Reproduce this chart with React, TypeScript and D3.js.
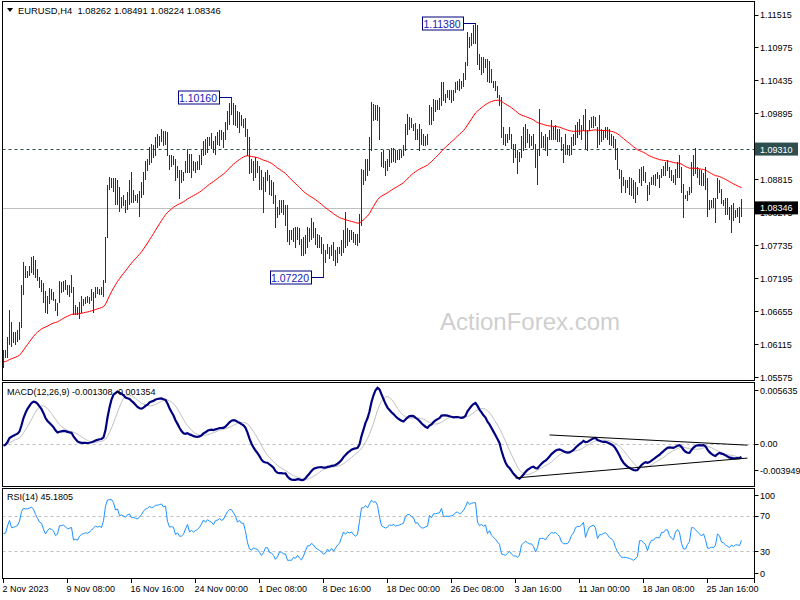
import React from 'react';
import * as d3 from 'd3';

// ---- OHLC data (H4 EURUSD, bar 0 = 2 Nov 2023 00:00) ----
const highs = [
1.0601,1.0601,1.0623,1.0667,1.0648,1.0631,1.0631,1.0634,1.0648,1.0708,
1.0746,1.0740,1.0732,1.0740,1.0754,1.0755,1.0749,1.0735,1.0721,1.0716,
1.0711,1.0699,1.0691,1.0704,1.0701,1.0697,1.0686,1.0678,1.0715,1.0713,
1.0715,1.0716,1.0709,1.0708,1.0724,1.0705,1.0675,1.0673,1.0680,1.0691,
1.0686,1.0689,1.0690,1.0689,1.0701,1.0697,1.0705,1.0705,1.0702,1.0705,
1.0717,1.0787,1.0872,1.0886,1.0884,1.0883,1.0884,1.0880,1.0869,1.0852,
1.0855,1.0847,1.0860,1.0881,1.0894,1.0864,1.0856,1.0858,1.0863,1.0877,
1.0893,1.0912,1.0915,1.0934,1.0940,1.0937,1.0951,1.0956,1.0953,1.0964,
1.0961,1.0960,1.0959,1.0922,1.0921,1.0920,1.0915,1.0904,1.0897,1.0896,
1.0893,1.0912,1.0931,1.0923,1.0923,1.0912,1.0910,1.0912,1.0921,1.0929,
1.0945,1.0948,1.0950,1.0951,1.0957,1.0945,1.0952,1.0959,1.0962,1.0963,
1.0959,1.0975,1.0994,1.1006,1.1016,1.1006,1.1004,1.0994,1.0992,1.0986,
1.0981,1.0982,1.0964,1.0950,1.0915,1.0912,1.0918,1.0912,1.0904,1.0896,
1.0885,1.0893,1.0896,1.0888,1.0880,1.0877,1.0855,1.0836,1.0847,1.0847,
1.0848,1.0839,1.0839,1.0798,1.0798,1.0802,1.0803,1.0803,1.0801,1.0784,
1.0787,1.0790,1.0803,1.0801,1.0818,1.0811,1.0801,1.0792,1.0790,1.0787,
1.0776,1.0765,1.0776,1.0771,1.0773,1.0779,1.0765,1.0771,1.0771,1.0782,
1.0798,1.0828,1.0801,1.0798,1.0799,1.0795,1.0792,1.0792,1.0825,1.0899,
1.0896,1.0915,1.0914,1.0951,1.1008,1.1005,1.1003,1.1003,1.1000,1.0926,
1.0929,1.0912,1.0915,1.0929,1.0932,1.0932,1.0930,1.0929,1.0929,1.0930,
1.0937,1.0972,1.0988,1.0983,1.0982,1.0972,1.0974,1.0964,1.0972,1.0964,
1.0956,1.0953,1.0956,1.1003,1.1000,1.1013,1.1012,1.1012,1.1015,1.1041,
1.1041,1.1022,1.1027,1.1028,1.1027,1.1027,1.1041,1.1043,1.1045,1.1043,
1.1055,1.1073,1.1123,1.1114,1.1121,1.1134,1.1138,1.1134,1.1087,1.1082,
1.1082,1.1079,1.1079,1.1076,1.1063,1.1043,1.1043,1.1035,1.1019,1.1017,
1.0967,1.0955,1.0956,1.0967,1.0956,1.0940,1.0940,1.0929,1.0926,1.0953,
1.0967,1.0972,1.0964,1.0956,1.0953,1.0955,1.0940,1.0929,1.0997,1.0959,
1.0953,1.0956,1.0951,1.0962,1.0978,1.0967,1.0970,1.0964,1.0964,1.0951,
1.0940,1.0956,1.0937,1.0937,1.0951,1.0956,1.0970,1.0975,1.0981,1.0970,
1.0986,1.0997,1.0962,1.0978,1.0984,1.0985,1.0984,1.0967,1.0986,1.0964,
1.0962,1.0967,1.0967,1.0964,1.0956,1.0953,1.0948,1.0932,1.0899,1.0896,
1.0885,1.0880,1.0881,1.0885,1.0883,1.0880,1.0877,1.0869,1.0899,1.0902,
1.0904,1.0893,1.0872,1.0877,1.0885,1.0888,1.0890,1.0893,1.0888,1.0899,
1.0904,1.0910,1.0913,1.0902,1.0896,1.0888,1.0899,1.0910,1.0921,1.0902,
1.0874,1.0855,1.0863,1.0869,1.0910,1.0921,1.0932,1.0902,1.0899,1.0896,
1.0891,1.0902,1.0883,1.0847,1.0847,1.0850,1.0850,1.0883,1.0880,1.0866,
1.0847,1.0850,1.0850,1.0836,1.0839,1.0842,1.0831,1.0834,1.0836,1.0849,
];
const lows = [
1.0574,1.0590,1.0590,1.0612,1.0609,1.0615,1.0612,1.0617,1.0620,1.0639,
1.0694,1.0721,1.0721,1.0724,1.0729,1.0727,1.0721,1.0716,1.0705,1.0699,
1.0680,1.0664,1.0662,1.0678,1.0686,1.0683,1.0667,1.0659,1.0680,1.0697,
1.0699,1.0701,1.0693,1.0691,1.0697,1.0661,1.0661,1.0660,1.0654,1.0664,
1.0675,1.0678,1.0680,1.0678,1.0683,1.0664,1.0689,1.0695,1.0693,1.0694,
1.0691,1.0713,1.0787,1.0866,1.0869,1.0863,1.0841,1.0841,1.0829,1.0836,
1.0839,1.0828,1.0833,1.0841,1.0844,1.0845,1.0847,1.0844,1.0822,1.0852,
1.0858,1.0882,1.0896,1.0907,1.0910,1.0918,1.0921,1.0934,1.0937,1.0945,
1.0937,1.0940,1.0921,1.0899,1.0904,1.0906,1.0880,1.0885,1.0850,1.0877,
1.0880,1.0893,1.0893,1.0893,1.0885,1.0896,1.0893,1.0899,1.0899,1.0907,
1.0921,1.0923,1.0926,1.0937,1.0932,1.0926,1.0923,1.0940,1.0937,1.0948,
1.0934,1.0948,1.0964,1.0972,1.0989,1.0972,1.0970,1.0967,1.0959,1.0970,
1.0967,1.0953,1.0921,1.0891,1.0893,1.0880,1.0885,1.0893,1.0866,1.0866,
1.0828,1.0863,1.0880,1.0858,1.0855,1.0842,1.0804,1.0820,1.0825,1.0828,
1.0825,1.0806,1.0781,1.0776,1.0784,1.0781,1.0770,1.0784,1.0776,1.0757,
1.0757,1.0760,1.0770,1.0781,1.0784,1.0787,1.0776,1.0770,1.0770,1.0760,
1.0722,1.0746,1.0760,1.0752,1.0757,1.0749,1.0741,1.0746,1.0760,1.0757,
1.0762,1.0771,1.0773,1.0781,1.0783,1.0779,1.0776,1.0773,1.0779,1.0806,
1.0874,1.0880,1.0888,1.0896,1.0929,1.0978,1.0981,1.0978,1.0948,1.0904,
1.0901,1.0888,1.0896,1.0904,1.0910,1.0912,1.0910,1.0915,1.0915,1.0918,
1.0921,1.0929,1.0956,1.0964,1.0967,1.0962,1.0948,1.0948,1.0929,1.0940,
1.0937,1.0937,1.0940,1.0972,1.0972,1.0978,1.0994,1.0997,1.0997,1.1003,
1.1011,1.1008,1.1016,1.1013,1.1008,1.1011,1.1024,1.1030,1.1027,1.1031,
1.1035,1.1046,1.1068,1.1098,1.1101,1.1104,1.1104,1.1071,1.1063,1.1054,
1.1057,1.1065,1.1043,1.1041,1.1041,1.1032,1.1027,1.1016,1.1003,1.0951,
1.0940,1.0937,1.0943,1.0948,1.0932,1.0910,1.0918,1.0891,1.0912,1.0918,
1.0929,1.0934,1.0942,1.0934,1.0937,1.0932,1.0901,1.0874,1.0921,1.0934,
1.0934,1.0929,1.0921,1.0948,1.0948,1.0948,1.0948,1.0945,1.0945,1.0929,
1.0910,1.0923,1.0923,1.0921,1.0923,1.0937,1.0940,1.0951,1.0956,1.0948,
1.0962,1.0932,1.0930,1.0962,1.0967,1.0967,1.0970,1.0934,1.0940,1.0945,
1.0948,1.0951,1.0948,1.0940,1.0937,1.0934,1.0915,1.0899,1.0884,1.0861,
1.0872,1.0861,1.0869,1.0858,1.0855,1.0850,1.0844,1.0858,1.0877,1.0872,
1.0880,1.0877,1.0847,1.0858,1.0874,1.0874,1.0872,1.0883,1.0869,1.0885,
1.0888,1.0888,1.0896,1.0885,1.0880,1.0877,1.0874,1.0885,1.0885,1.0861,
1.0820,1.0850,1.0847,1.0858,1.0861,1.0888,1.0891,1.0885,1.0874,1.0872,
1.0872,1.0866,1.0822,1.0833,1.0836,1.0836,1.0812,1.0850,1.0861,1.0842,
1.0839,1.0825,1.0825,1.0817,1.0795,1.0814,1.0820,1.0822,1.0812,1.0822,
];
const closes = [
1.0595,1.0596,1.0618,1.0640,1.0620,1.0622,1.0625,1.0628,1.0645,1.0700,
1.0730,1.0728,1.0730,1.0735,1.0745,1.0740,1.0728,1.0718,1.0708,1.0705,
1.0688,1.0672,1.0685,1.0692,1.0690,1.0685,1.0670,1.0675,1.0705,1.0705,
1.0708,1.0703,1.0698,1.0700,1.0702,1.0666,1.0668,1.0665,1.0675,1.0680,
1.0682,1.0684,1.0683,1.0686,1.0690,1.0695,1.0700,1.0698,1.0700,1.0698,
1.0714,1.0787,1.0868,1.0875,1.0878,1.0870,1.0850,1.0860,1.0840,1.0845,
1.0842,1.0838,1.0855,1.0860,1.0850,1.0852,1.0850,1.0848,1.0858,1.0870,
1.0890,1.0905,1.0910,1.0928,1.0925,1.0930,1.0945,1.0945,1.0950,1.0955,
1.0950,1.0955,1.0925,1.0910,1.0912,1.0910,1.0890,1.0895,1.0885,1.0885,
1.0890,1.0905,1.0920,1.0900,1.0905,1.0900,1.0905,1.0908,1.0915,1.0925,
1.0940,1.0935,1.0945,1.0942,1.0940,1.0935,1.0948,1.0950,1.0955,1.0952,
1.0955,1.0970,1.0985,1.0995,1.0995,1.0990,1.0985,1.0975,1.0980,1.0975,
1.0975,1.0960,1.0930,1.0905,1.0900,1.0905,1.0900,1.0898,1.0885,1.0870,
1.0875,1.0885,1.0885,1.0865,1.0862,1.0850,1.0825,1.0830,1.0840,1.0838,
1.0830,1.0830,1.0790,1.0790,1.0790,1.0795,1.0790,1.0795,1.0780,1.0768,
1.0775,1.0785,1.0795,1.0795,1.0800,1.0795,1.0785,1.0780,1.0775,1.0770,
1.0760,1.0762,1.0768,1.0760,1.0765,1.0755,1.0760,1.0765,1.0768,1.0778,
1.0790,1.0785,1.0790,1.0788,1.0790,1.0785,1.0782,1.0785,1.0815,1.0885,
1.0885,1.0905,1.0900,1.0940,1.0995,1.0990,1.0995,1.0985,1.0950,1.0915,
1.0910,1.0905,1.0910,1.0922,1.0920,1.0925,1.0920,1.0922,1.0925,1.0928,
1.0932,1.0965,1.0975,1.0975,1.0970,1.0968,1.0955,1.0958,1.0950,1.0945,
1.0945,1.0948,1.0950,1.0990,1.0985,1.1005,1.1005,1.1008,1.1010,1.1035,
1.1018,1.1020,1.1020,1.1020,1.1022,1.1025,1.1035,1.1038,1.1035,1.1040,
1.1050,1.1068,1.1110,1.1105,1.1115,1.1120,1.1120,1.1080,1.1070,1.1075,
1.1070,1.1075,1.1050,1.1060,1.1045,1.1038,1.1030,1.1020,1.1010,1.0955,
1.0950,1.0945,1.0950,1.0955,1.0938,1.0925,1.0925,1.0915,1.0920,1.0945,
1.0950,1.0955,1.0950,1.0945,1.0945,1.0935,1.0910,1.0920,1.0945,1.0945,
1.0945,1.0940,1.0948,1.0955,1.0960,1.0958,1.0960,1.0955,1.0950,1.0935,
1.0930,1.0930,1.0930,1.0935,1.0945,1.0950,1.0962,1.0965,1.0965,1.0968,
1.0975,1.0945,1.0960,1.0972,1.0975,1.0978,1.0972,1.0945,1.0955,1.0955,
1.0958,1.0960,1.0955,1.0948,1.0945,1.0940,1.0920,1.0905,1.0890,1.0875,
1.0875,1.0875,1.0872,1.0870,1.0865,1.0860,1.0862,1.0865,1.0890,1.0890,
1.0885,1.0880,1.0860,1.0872,1.0880,1.0880,1.0885,1.0885,1.0885,1.0895,
1.0895,1.0900,1.0900,1.0890,1.0885,1.0882,1.0895,1.0900,1.0895,1.0870,
1.0852,1.0852,1.0860,1.0865,1.0900,1.0900,1.0895,1.0890,1.0885,1.0880,
1.0885,1.0870,1.0840,1.0840,1.0842,1.0840,1.0845,1.0870,1.0865,1.0845,
1.0842,1.0835,1.0830,1.0825,1.0830,1.0825,1.0828,1.0828,1.0826,1.0835,
];

const maSeed = 1.0582;
const ema12Seed = 1.0585;
const ema26Seed = 1.0588;
const rsiGainSeed = 0.0005;
const rsiLossSeed = 0.0005;

const timeLabels = ['2 Nov 2023', '9 Nov 08:00', '16 Nov 16:00', '24 Nov 00:00', '1 Dec 08:00', '8 Dec 16:00',
  '18 Dec 00:00', '26 Dec 08:00', '3 Jan 16:00', '11 Jan 00:00', '18 Jan 08:00', '25 Jan 16:00'];
const timeLabelBars = [0, 32, 64, 96, 128, 160, 192, 224, 256, 288, 320, 352];

const priceTicks = [1.11515, 1.10975, 1.10435, 1.09895, 1.08815, 1.08275, 1.07735, 1.07195, 1.06655, 1.06115, 1.05575];
const levelPrice = 1.0931;
const lastPrice = 1.08346;

const markLabels = ['1.10160', '1.11380', '1.07220'];
const markPrices = [1.1016, 1.1138, 1.0722];
const markBars = [114, 236, 160];

const macdTicks = [0.005635, 0.0, -0.003949];
const rsiTicks = [100, 70, 30, 0];
const rsiLevels = [70, 30];

// MACD trendlines: [barStart, valueStart, barEnd, valueEnd]
const macdTrendUpper = [273, 0.0008, 372, -0.00015];
const macdTrendLower = [256, -0.0032, 372, -0.00135];

const headerText = 'EURUSD,H4  1.08262 1.08491 1.08224 1.08346';
const macdText = 'MACD(12,26,9) -0.001308 -0.001354';
const rsiText = 'RSI(14) 45.1805';

const FONT = 'Liberation Sans, Arial, sans-serif';

function ema(values: number[], period: number, seed: number) {
  const k = 2 / (period + 1);
  const out: number[] = [];
  let prev = seed;
  values.forEach((v) => { prev = prev + k * (v - prev); out.push(prev); });
  return out;
}

export default function App() {
  const n = closes.length;
  const L = 2.5, R = 754.5;
  const x = d3.scaleLinear().domain([0, 1]).range([3.5, 5.5]);
  const y = d3.scaleLinear().domain([1.05575, 1.11515]).range([377, 14.5]);
  const yM = d3.scaleLinear().domain([-0.003949, 0.005635]).range([486, 383]);
  const yR = d3.scaleLinear().domain([0, 100]).range([578, 489]);

  const ma = ema(closes, 55, maSeed);
  const e12 = ema(closes, 12, ema12Seed);
  const e26 = ema(closes, 26, ema26Seed);
  const macd = e12.map((v, i) => v - e26[i]);
  const signal = macd.map((_, i) => d3.mean(macd.slice(Math.max(0, i - 8), i + 1)) as number);
  const rsi: number[] = [];
  let ag = rsiGainSeed, al = rsiLossSeed, prevC = closes[0];
  closes.forEach((c) => {
    const ch = c - prevC; prevC = c;
    ag = (ag * 13 + Math.max(ch, 0)) / 14;
    al = (al * 13 + Math.max(-ch, 0)) / 14;
    rsi.push(100 - 100 / (1 + ag / al));
  });

  const idx = d3.range(n);
  const maPath = d3.line<number>().x((i) => x(i)).y((i) => y(ma[i]))(idx) || '';
  const macdPath = d3.line<number>().x((i) => x(i)).y((i) => yM(macd[i]))(idx) || '';
  const sigPath = d3.line<number>().x((i) => x(i)).y((i) => yM(signal[i]))(idx) || '';
  const rsiPath = d3.line<number>().x((i) => x(i)).y((i) => yR(rsi[i]))(idx) || '';

  const barColor = '#0e3a55';
  const axisText = { fontFamily: FONT, fontSize: 9, fill: '#000' } as const;

  return (
    <svg width={800} height={600} style={{ position: 'absolute', left: 0, top: 0, background: '#fff' }}>
      <rect x={0} y={0} width={800} height={600} fill="#fff" />
      {/* watermark */}
      <text x={440} y={330} fontFamily={FONT} fontSize={24} fill="#cfcfcf">ActionForex.com</text>

      {/* level line and current price line */}
      <line x1={L} x2={R} y1={Math.round(y(levelPrice)) + 0.5} y2={Math.round(y(levelPrice)) + 0.5} stroke="#2f4f4f" strokeDasharray="3,3" />
      <line x1={L} x2={R} y1={Math.round(y(lastPrice)) + 0.5} y2={Math.round(y(lastPrice)) + 0.5} stroke="#c0c0c0" />

      {/* bars */}
      <g stroke={barColor} strokeWidth={1} shapeRendering="crispEdges">
        {idx.map((i) => (
          <line key={i} x1={x(i)} x2={x(i)} y1={Math.round(y(highs[i]))} y2={Math.round(y(lows[i])) + 1} />
        ))}
      </g>
      <path d={maPath} fill="none" stroke="#ff0000" strokeWidth={1} />

      {/* high/low markers */}
      {markBars.map((b, k) => {
        const yy = Math.round(y(markPrices[k])) + 0.5;
        const bx = x(b);
        return (
          <g key={k}>
            <line x1={bx - 13} x2={bx} y1={yy} y2={yy} stroke="#000080" />
            <rect x={Math.round(bx - 54) + 0.5} y={yy - 6.5} width={41} height={13} fill="#fff" stroke="#000080" />
            <text x={bx - 33.5} y={yy + 4} textAnchor="middle" fontFamily={FONT} fontSize={10.5} fill="#1a1ab4">{markLabels[k]}</text>
          </g>
        );
      })}

      {/* MACD panel */}
      <line x1={L} x2={R} y1={Math.round(yM(0)) + 0.5} y2={Math.round(yM(0)) + 0.5} stroke="#c0c0c0" strokeDasharray="3,3" />
      <path d={sigPath} fill="none" stroke="#c0c0c0" strokeWidth={1} />
      <path d={macdPath} fill="none" stroke="#000080" strokeWidth={2.2} />
      {[macdTrendUpper, macdTrendLower].map((t, k) => (
        <line key={k} x1={x(t[0])} y1={yM(t[1])} x2={x(t[2])} y2={yM(t[3])} stroke="#000" strokeWidth={1} />
      ))}

      {/* RSI panel */}
      {rsiLevels.map((v) => (
        <line key={v} x1={L} x2={R} y1={Math.round(yR(v)) + 0.5} y2={Math.round(yR(v)) + 0.5} stroke="#c0c0c0" strokeDasharray="3,3" />
      ))}
      <path d={rsiPath} fill="none" stroke="#1e90ff" strokeWidth={1} />

      {/* frames */}
      <g stroke="#000" strokeWidth={1} fill="none" shapeRendering="crispEdges">
        <rect x={L} y={1.5} width={R - L} height={379} />
        <rect x={L} y={382.5} width={R - L} height={104} />
        <rect x={L} y={488.5} width={R - L} height={90} />
      </g>

      {/* headers */}
      <path d="M7,8 L13,8 L10,12 Z" fill="#000" />
      <text x={18} y={14} fontFamily={FONT} fontSize={9.4} fill="#000" style={{ whiteSpace: 'pre' }}>{headerText}</text>
      <text x={7} y={395} {...axisText}>{macdText}</text>
      <text x={7} y={500} {...axisText}>{rsiText}</text>

      {/* price axis */}
      {priceTicks.map((p) => (
        <g key={p}>
          <line x1={R} x2={R + 4} y1={Math.round(y(p)) + 0.5} y2={Math.round(y(p)) + 0.5} stroke="#000" />
          <text x={760} y={y(p) + 3.5} {...axisText}>{p.toFixed(5)}</text>
        </g>
      ))}
      <rect x={755} y={y(levelPrice) - 6.5} width={43} height={13} fill="#2f4f4f" />
      <text x={760} y={y(levelPrice) + 3.5} {...axisText} fill="#fff">{levelPrice.toFixed(5)}</text>
      <rect x={755} y={y(lastPrice) - 6.5} width={43} height={13} fill="#000" />
      <text x={760} y={y(lastPrice) + 3.5} {...axisText} fill="#fff">{lastPrice.toFixed(5)}</text>

      {/* MACD axis */}
      {macdTicks.map((v, k) => {
        const ty = k === 0 ? 390 : k === 2 ? 470 : yM(v);
        return (
          <g key={k}>
            <line x1={R} x2={R + 4} y1={Math.round(ty) + 0.5} y2={Math.round(ty) + 0.5} stroke="#000" />
            <text x={760} y={ty + 3.5} {...axisText}>{k === 1 ? '0.00' : v.toFixed(6)}</text>
          </g>
        );
      })}

      {/* RSI axis */}
      {rsiTicks.map((v) => {
        const ty = v === 100 ? 495 : v === 0 ? 573 : yR(v);
        return (
          <g key={v}>
            <line x1={R} x2={R + 4} y1={Math.round(ty) + 0.5} y2={Math.round(ty) + 0.5} stroke="#000" />
            <text x={760} y={ty + 3.5} {...axisText}>{v}</text>
          </g>
        );
      })}

      {/* time axis */}
      {timeLabelBars.map((b, k) => (
        <g key={k}>
          <line x1={Math.round(x(b)) - 0.5} x2={Math.round(x(b)) - 0.5} y1={579} y2={583} stroke="#000" />
          <text x={x(b) - 1} y={592} {...axisText}>{timeLabels[k]}</text>
        </g>
      ))}
      <line x1={R} x2={R} y1={578} y2={583} stroke="#000" />
    </svg>
  );
}
